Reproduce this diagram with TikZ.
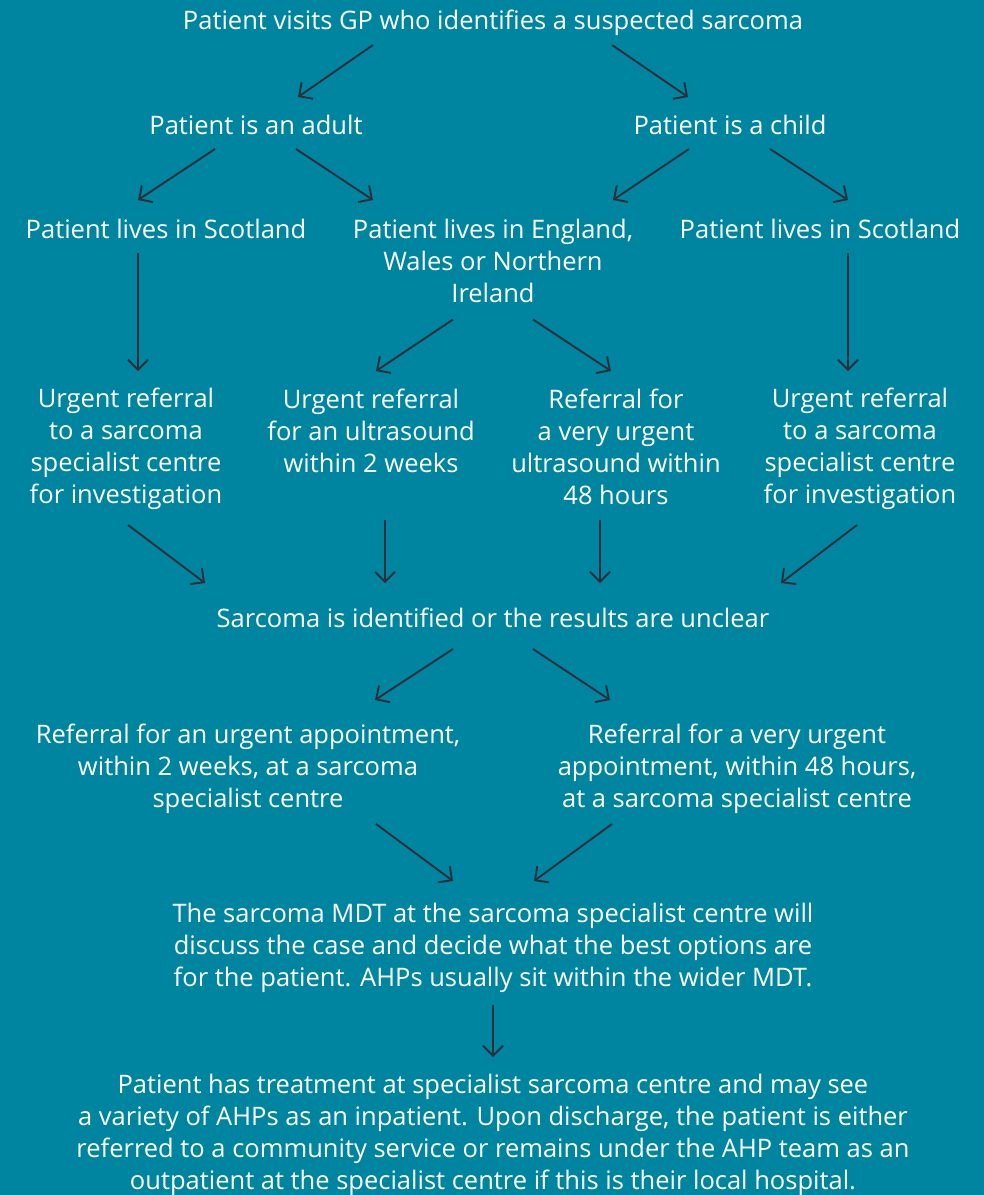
\documentclass[tikz,border=0pt]{standalone}
\usepackage{fontspec}
\setmainfont{Open Sans}
\usetikzlibrary{arrows.meta,calc}
\definecolor{bgteal}{RGB}{0,133,161}
\definecolor{arrcol}{RGB}{44,46,58}
\newcommand{\ls}{\rule[-4pt]{0pt}{28pt}}
\begin{document}
\begin{tikzpicture}[x=1pt,y=-1pt,
  txt/.style={text=white,align=center,inner sep=0pt,font=\fontsize{25.5}{32}\selectfont},
  arr/.style={draw=arrcol,line width=1.9pt,-{Straight Barb[length=10pt,width=20pt,line width=1.9pt]}}]
\useasboundingbox (0,0) rectangle (984,1195);
\fill[bgteal] (0,0) rectangle (984,1195);
\node[txt] (top) at (493,21) {\ls Patient visits GP who identifies a suspected sarcoma};
\node[txt] (adult) at (256,124) {\ls Patient is an adult};
\node[txt] (child) at (730,124) {\ls Patient is a child};
\node[txt] (scotA) at (166,228) {\ls Patient lives in Scotland};
\node[txt] (engl) at (493,260) {\ls Patient lives in England,\\\ls Wales or Northern\\\ls Ireland};
\node[txt] (scotC) at (820,228) {\ls Patient lives in Scotland};
\node[txt] (r4a) at (126,446.5) {\ls Urgent referral\\\ls to a sarcoma\\\ls specialist centre\\\ls for investigation};
\node[txt] (r4b) at (371,430) {\ls Urgent referral\\\ls for an ultrasound\\\ls within 2 weeks};
\node[txt] (r4c) at (616,446.5) {\ls Referral for\\\ls a very urgent\\\ls ultrasound within\\\ls 48 hours};
\node[txt] (r4d) at (860,446.5) {\ls Urgent referral\\\ls to a sarcoma\\\ls specialist centre\\\ls for investigation};
\node[txt] (sarc) at (493,617) {\ls Sarcoma is identified or the results are unclear};
\node[txt] (refL) at (248,767) {\ls Referral for an urgent appointment,\\\ls within 2 weeks, at a sarcoma\\\ls specialist centre};
\node[txt] (refR) at (737,767) {\ls Referral for a very urgent\\\ls appointment, within 48 hours,\\\ls at a sarcoma specialist centre};
\node[txt] (mdt) at (493,946) {\ls The sarcoma MDT at the sarcoma specialist centre will\\\ls discuss the case and decide what the best options are\\\ls for the patient. AHPs usually sit within the wider MDT.};
\node[txt] (treat) at (493,1133) {\ls Patient has treatment at specialist sarcoma centre and may see\\\ls a variety of AHPs as an inpatient. Upon discharge, the patient is either\\\ls referred to a community service or remains under the AHP team as an\\\ls outpatient at the specialist centre if this is their local hospital.};
\draw[arr] ($(top)+(-120,24)$) -- ($(adult)+(42,-27)$);
\draw[arr] ($(top)+(119,24)$) -- ($(child)+(-42,-27)$);
\draw[arr] ($(adult)+(-41,25)$) -- ($(scotA)+(-28,-28)$);
\draw[arr] ($(adult)+(40,25)$) -- ($(engl)+(-120,-60)$);
\draw[arr] ($(child)+(-41,25)$) -- ($(engl)+(120,-60)$);
\draw[arr] ($(child)+(40,25)$) -- ($(scotC)+(28,-28)$);
\draw[arr] ($(scotA)+(-28,25)$) -- ($(r4a)+(12,-75.5)$);
\draw[arr] ($(scotC)+(28,25)$) -- ($(r4d)+(-12,-75.5)$);
\draw[arr] ($(engl)+(-40,59.5)$) -- ($(r4b)+(5,-59)$);
\draw[arr] ($(engl)+(40,59.5)$) -- ($(r4c)+(-5,-75.5)$);
\draw[arr] ($(r4a)+(2,78.5)$) -- ($(sarc)+(-288,-34)$);
\draw[arr] ($(r4b)+(14,90)$) -- ($(sarc)+(-108,-34)$);
\draw[arr] ($(r4c)+(-16,73.5)$) -- ($(sarc)+(107,-34)$);
\draw[arr] ($(r4d)+(-3,78.5)$) -- ($(sarc)+(288,-34)$);
\draw[arr] ($(sarc)+(-40,32)$) -- ($(refL)+(127,-67)$);
\draw[arr] ($(sarc)+(40,32)$) -- ($(refR)+(-127,-67)$);
\draw[arr] ($(refL)+(128,57)$) -- ($(mdt)+(-40,-65)$);
\draw[arr] ($(refR)+(-125,57)$) -- ($(mdt)+(41,-65)$);
\draw[arr] ($(mdt)+(0,59)$) -- ($(treat)+(0,-76)$);
\end{tikzpicture}
\end{document}
